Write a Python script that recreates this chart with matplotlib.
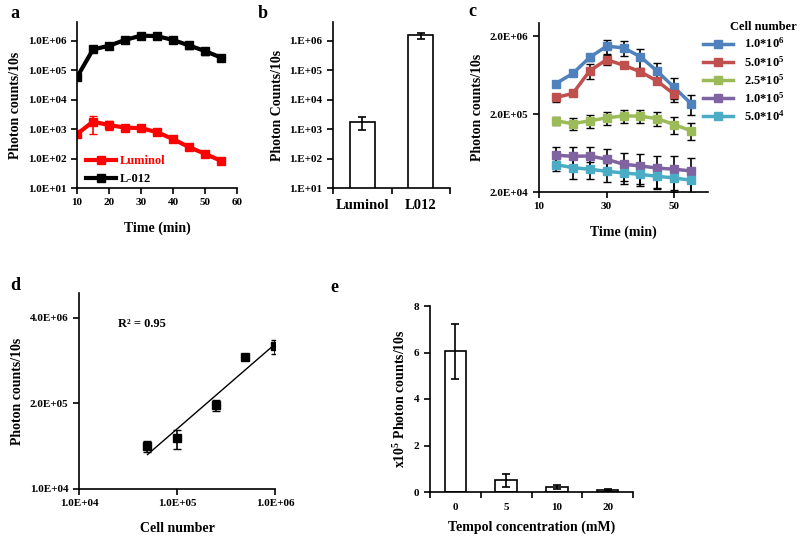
import matplotlib
matplotlib.use("Agg")
import matplotlib.pyplot as plt
import numpy as np
from matplotlib.ticker import FixedLocator, FixedFormatter, NullLocator

plt.rcParams["font.family"] = ["Liberation Serif", "DejaVu Serif"]
plt.rcParams["font.weight"] = "bold"
plt.rcParams["mathtext.fontset"] = "custom"
plt.rcParams["mathtext.rm"] = "Liberation Serif"
plt.rcParams["mathtext.bf"] = "Liberation Serif:bold"
plt.rcParams["mathtext.default"] = "bf"
plt.rcParams["axes.linewidth"] = 1.2

# ---- panel a: kinetics, luminol vs L-012 ----
time_a = [10, 15, 20, 25, 30, 35, 40, 45, 50, 55]
luminol = [680, 1800, 1370, 1130, 1080, 790, 460, 245, 145, 84]
luminol_err = [150, 1100, 450, 150, 120, 80, 60, 30, 20, 10]
l012 = [5.8e4, 5.1e5, 6.8e5, 1.07e6, 1.5e6, 1.45e6, 1.07e6, 7.0e5, 4.5e5, 2.7e5]
l012_err = [1e4, 6e4, 8e4, 1.2e5, 2e5, 2.5e5, 2.5e5, 1.8e5, 1.1e5, 7e4]

# ---- panel b: total counts ----
probes = ["Luminol", "L012"]
probe_counts = [1.77e3, 1.54e6]
probe_err = [8e2, 3.5e5]

# ---- panel c: kinetics by cell number ----
time_c = [15, 20, 25, 30, 35, 40, 45, 50, 55]
cell_labels = ["1.0*10$^{6}$", "5.0*10$^{5}$", "2.5*10$^{5}$", "1.0*10$^{5}$", "5.0*10$^{4}$"]
cell_colors = ["#4F81BD", "#C0504D", "#9BBB59", "#8064A2", "#4BACC6"]
c_1e6 = [4.94e5, 6.65e5, 1.07e6, 1.49e6, 1.42e6, 1.09e6, 7.1e5, 4.4e5, 2.73e5]
c_1e6_err = [4e4, 4e4, 1.2e5, 3e5, 3e5, 3e5, 2e5, 1.5e5, 8e4]
c_5e5 = [3.27e5, 3.68e5, 7.2e5, 1.0e6, 8.5e5, 7.0e5, 5.3e5, 3.6e5]
c_5e5_err = [4e4, 3e4, 1.5e5, 1.5e5, 3e4, 2e4, 2e4, 5e4]
c_25e5 = [1.64e5, 1.51e5, 1.64e5, 1.79e5, 1.9e5, 1.88e5, 1.75e5, 1.47e5, 1.22e5]
c_25e5_err = [2e4, 2.5e4, 3e4, 3.5e4, 3.5e4, 3.5e4, 3.5e4, 3.5e4, 3e4]
c_1e5 = [5.93e4, 5.75e4, 5.8e4, 5.27e4, 4.54e4, 4.32e4, 4.06e4, 3.92e4, 3.73e4]
c_1e5_err = [1.7e4, 1.8e4, 1.8e4, 1.8e4, 1.8e4, 1.8e4, 1.8e4, 1.9e4, 1.8e4]
c_5e4 = [4.5e4, 4.11e4, 3.92e4, 3.69e4, 3.51e4, 3.37e4, 3.18e4, 3.03e4, 2.83e4]
c_5e4_err = [8e3, 1.2e4, 1e4, 1e4, 1e4, 1e4, 1e4, 9e3, 9e3]
c_series = [c_1e6, c_5e5, c_25e5, c_1e5, c_5e4]
c_errors = [c_1e6_err, c_5e5_err, c_25e5_err, c_1e5_err, c_5e4_err]

# ---- panel d: counts vs cell number ----
cells = [5e4, 1e5, 2.5e5, 5e5, 1e6]
cell_counts = [4.5e4, 6.0e4, 1.89e5, 1.0e6, 1.48e6]
cell_counts_err = [8e3, 2e4, 3.5e4, 8e4, 3.5e5]

# ---- panel e: tempol inhibition ----
tempol = ["0", "5", "10", "20"]
tempol_counts = [6.05, 0.5, 0.2, 0.08]
tempol_err = [1.17, 0.28, 0.08, 0.03]

W, H = 800, 538
fig = plt.figure(figsize=(W / 100, H / 100), dpi=100)


def box(l, t, r, b):
    return [l / W, 1 - b / H, (r - l) / W, (b - t) / H]


def clean(ax):
    ax.spines["top"].set_visible(False)
    ax.spines["right"].set_visible(False)
    ax.tick_params(direction="out", length=4, width=1.2, labelsize=8)
    ax.yaxis.set_minor_locator(NullLocator())
    ax.xaxis.set_minor_locator(NullLocator())


def category_ticks(ax, n):
    # Excel-style: labels centred, tick marks on category boundaries
    ax.tick_params(axis="x", length=0, pad=8)
    ax.xaxis.set_minor_locator(FixedLocator(np.arange(n + 1) - 0.5))
    ax.tick_params(axis="x", which="minor", length=4, width=1.2, direction="out")


def letter(x, y, s):
    fig.text(x / W, 1 - y / H, s, fontsize=13, fontweight="bold", va="center")


# a
ax = fig.add_axes(box(77, 22, 237, 188))
ax.set_yscale("log")
ax.errorbar(time_a, luminol, yerr=luminol_err, color="red", lw=3, marker="s", ms=6,
            ecolor="red", elinewidth=1.2, capsize=3, label="Luminol")
ax.errorbar(time_a, l012, yerr=l012_err, color="black", lw=3, marker="s", ms=6,
            ecolor="black", elinewidth=1.2, capsize=3, label="L-012")
ax.set_xlim(10, 60)
ax.set_ylim(10, 10 ** 6.64)
clean(ax)
ax.set_xticks([10, 20, 30, 40, 50, 60])
a_ticks = [1e1, 1e2, 1e3, 1e4, 1e5, 1e6]
ax.yaxis.set_major_locator(FixedLocator(a_ticks))
ax.yaxis.set_major_formatter(FixedFormatter(["1.0E+01", "1.0E+02", "1.0E+03", "1.0E+04", "1.0E+05", "1.0E+06"]))
ax.set_xlabel("Time (min)", fontsize=10, fontweight="bold", labelpad=10)
ax.set_ylabel("Photon counts/10s", fontsize=10, fontweight="bold")
handles, labels = ax.get_legend_handles_labels()
leg = ax.legend([h[0] for h in handles], labels, loc="lower left", bbox_to_anchor=(0.0, -0.035),
                frameon=False, fontsize=9, handlelength=2.4, handletextpad=0.3,
                borderaxespad=0.3, labelspacing=0.45)
leg.get_texts()[0].set_color("red")
letter(10, 13, "a")

# b
ax = fig.add_axes(box(333, 22, 450, 188))
ax.set_yscale("log")
xb = np.arange(len(probes))
ax.bar(xb, probe_counts, width=0.42, bottom=0, color="white", edgecolor="black", lw=1.2,
       yerr=probe_err, capsize=3, error_kw=dict(elinewidth=1.2, capthick=1.2))
ax.set_xlim(-0.5, 1.5)
ax.set_ylim(10, 10 ** 6.64)
clean(ax)
ax.set_xticks(xb)
ax.set_xticklabels(probes, fontsize=10.5)
category_ticks(ax, len(probes))
ax.yaxis.set_major_locator(FixedLocator(a_ticks))
ax.yaxis.set_major_formatter(FixedFormatter(["1.E+01", "1.E+02", "1.E+03", "1.E+04", "1.E+05", "1.E+06"]))
ax.set_ylabel("Photon Counts/10s", fontsize=10, fontweight="bold")
letter(258, 13, "b")

# c
ax = fig.add_axes(box(539, 23, 708, 192))
ax.set_yscale("log")
for vals, errs, col, lab in zip(c_series, c_errors, cell_colors, cell_labels):
    ax.errorbar(time_c[:len(vals)], vals, yerr=errs, color=col, lw=2.5, marker="s", ms=6,
                ecolor="black", elinewidth=1.2, capsize=3, label=lab)
ax.set_xlim(10, 60)
ax.set_ylim(2e4, 2e6 * 10 ** 0.17)
clean(ax)
ax.set_xticks([10, 30, 50])
ax.yaxis.set_major_locator(FixedLocator([2e4, 2e5, 2e6]))
ax.yaxis.set_major_formatter(FixedFormatter(["2.0E+04", "2.0E+05", "2.0E+06"]))
ax.set_xlabel("Time (min)", fontsize=10, fontweight="bold", labelpad=10)
ax.set_ylabel("Photon counts/10s", fontsize=10, fontweight="bold")
handles, labels = ax.get_legend_handles_labels()
handles = [h[0] for h in handles]
ax.legend(handles, labels, loc="upper left", bbox_to_anchor=(0.905, 0.987),
          frameon=False, fontsize=9, handlelength=2.4, labelspacing=0.28, handletextpad=0.9)
fig.text(763 / W, 1 - 27 / H, "Cell number", fontsize=9, fontweight="bold", ha="center", va="center")
letter(468, 11, "c")

# d
ax = fig.add_axes(box(79, 293, 275, 489))
ax.set_xscale("log")
ax.set_yscale("log")
ax.errorbar(cells, cell_counts, yerr=cell_counts_err, fmt="s", color="black", ms=6,
            elinewidth=1.2, capsize=3)
slope, icpt = np.polyfit(np.log10(cells), np.log10(cell_counts), 1)
fit_x = np.array([min(cells), max(cells)])
ax.plot(fit_x, 10 ** (icpt + slope * np.log10(fit_x)), color="black", lw=1)
pred = icpt + slope * np.log10(cells)
ly = np.log10(cell_counts)
r2 = 1 - np.sum((ly - pred) ** 2) / np.sum((ly - ly.mean()) ** 2)
ax.text(0.32, 0.84, f"R² = {r2:.2f}", transform=ax.transAxes, fontsize=9, fontweight="bold",
        ha="center", va="center")
ax.set_xlim(1e4, 1e6)
ax.set_ylim(1e4, 4e6 * 20 ** 0.29)
clean(ax)
ax.xaxis.set_major_locator(FixedLocator([1e4, 1e5, 1e6]))
ax.xaxis.set_major_formatter(FixedFormatter(["1.0E+04", "1.0E+05", "1.0E+06"]))
ax.yaxis.set_major_locator(FixedLocator([1e4, 2e5, 4e6]))
ax.yaxis.set_major_formatter(FixedFormatter(["1.0E+04", "2.0E+05", "4.0E+06"]))
ax.set_xlabel("Cell number", fontsize=10, fontweight="bold", labelpad=10)
ax.set_ylabel("Photon counts/10s", fontsize=10, fontweight="bold")
letter(10, 285, "d")

# e
ax = fig.add_axes(box(430, 306, 633, 492))
xe = np.arange(len(tempol))
ax.bar(xe, tempol_counts, width=0.42, color="white", edgecolor="black", lw=1.2,
       yerr=tempol_err, capsize=3, error_kw=dict(elinewidth=1.2, capthick=1.2))
ax.set_xlim(-0.5, 3.5)
ax.set_ylim(0, 8)
clean(ax)
ax.set_yticks([0, 2, 4, 6, 8])
ax.set_xticks(xe)
ax.set_xticklabels(tempol)
category_ticks(ax, len(tempol))
ax.set_xlabel("Tempol concentration (mM)", fontsize=10, fontweight="bold", labelpad=6)
ax.set_ylabel("x10$^{5}$ Photon counts/10s", fontsize=10, fontweight="bold")
letter(330, 288, "e")

fig.savefig("out.png", dpi=100)
